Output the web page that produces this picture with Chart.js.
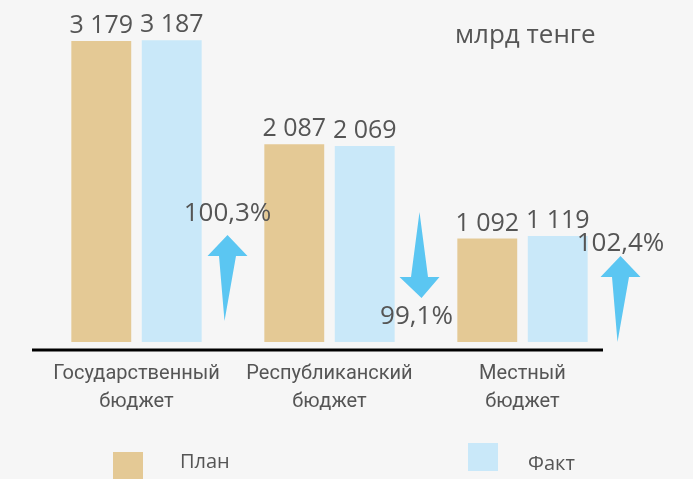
<!DOCTYPE html>
<html>
<head>
<meta charset="utf-8">
<script src="https://cdn.jsdelivr.net/npm/chart.js@4"></script>
<style>
  html, body { margin: 0; padding: 0; background: #f6f6f6; }
  canvas { display: block; }
</style>
</head>
<body>
<canvas id="budget" width="693" height="479"></canvas>
<script>
const categories = [
  ['Государственный', 'бюджет'],
  ['Республиканский', 'бюджет'],
  ['Местный', 'бюджет'],
];
const planValues = [3179, 2087, 1092];
const factValues = [3187, 2069, 1119];
const executionPct = [100.3, 99.1, 102.4];
const unitLabel = 'млрд тенге';
const seriesNames = ['План', 'Факт'];

const planColor = '#e4c995';
const factColor = '#c9e8f9';
const arrowColor = '#5bc6f2';
const textColor = '#555555';
const fontFamily = "'Open Sans', sans-serif";

// thousands with a space, like "3 179"
const fmtNum = (v) => String(v).replace(/\B(?=(\d{3})+(?!\d))/g, ' ');
const fmtPct = (v) => v.toFixed(1).replace('.', ',') + '%';

// value labels, baseline, arrows, unit, legend
const decorPlugin = {
  id: 'decor',
  afterDatasetsDraw(chart) {
    const ctx = chart.ctx;
    const area = chart.chartArea;
    const xs = chart.scales.x;
    ctx.save();

    // numbers above bars
    ctx.fillStyle = textColor;
    ctx.font = '25px ' + fontFamily;
    ctx.textAlign = 'center';
    ctx.textBaseline = 'alphabetic';
    chart.data.datasets.forEach((ds, di) => {
      chart.getDatasetMeta(di).data.forEach((bar, i) => {
        ctx.fillText(fmtNum(ds.data[i]), bar.x, bar.y - 8);
      });
    });

    // baseline
    ctx.strokeStyle = '#000';
    ctx.lineWidth = 3;
    ctx.beginPath();
    ctx.moveTo(area.left - 8, area.bottom + 8);
    ctx.lineTo(area.right - 16, area.bottom + 8);
    ctx.stroke();

    // arrows + percentages
    const lift = [21, 0, 0];
    const shift = [91, 90, 98];
    executionPct.forEach((p, i) => {
      const cx = xs.getPixelForValue(i) + shift[i];
      const up = p >= 100;
      const len = 86, headH = 21, headW = 40, shaftW = 17;
      ctx.fillStyle = arrowColor;
      ctx.beginPath();
      if (up) {
        const bottom = area.bottom - lift[i];
        const tip = bottom - len;
        ctx.moveTo(cx - 3, bottom);
        ctx.lineTo(cx - shaftW / 2, tip + headH);
        ctx.lineTo(cx - headW / 2, tip + headH);
        ctx.lineTo(cx, tip);
        ctx.lineTo(cx + headW / 2, tip + headH);
        ctx.lineTo(cx + shaftW / 2, tip + headH);
        ctx.closePath();
        ctx.fill();
        ctx.fillStyle = textColor;
        ctx.font = '26px ' + fontFamily;
        ctx.textAlign = 'center';
        ctx.fillText(fmtPct(p), cx, tip - 14 + (i === 2 ? 9 : 0));
      } else {
        const top = area.bottom - 130;
        const tip = top + len;
        ctx.moveTo(cx, top);
        ctx.lineTo(cx + shaftW / 2, tip - headH);
        ctx.lineTo(cx + headW / 2, tip - headH);
        ctx.lineTo(cx + 2, tip);
        ctx.lineTo(cx - headW / 2, tip - headH);
        ctx.lineTo(cx - shaftW / 2, tip - headH);
        ctx.closePath();
        ctx.fill();
        ctx.fillStyle = textColor;
        ctx.font = '26px ' + fontFamily;
        ctx.textAlign = 'center';
        ctx.fillText(fmtPct(p), cx - 3, tip + 26);
      }
    });

    // unit
    ctx.fillStyle = textColor;
    ctx.font = '26px ' + fontFamily;
    ctx.textAlign = 'left';
    ctx.fillText(unitLabel, 455, 43);

    // legend
    ctx.font = '20px ' + fontFamily;
    ctx.fillStyle = planColor;
    ctx.fillRect(113, 452, 30, 30);
    ctx.fillStyle = factColor;
    ctx.fillRect(468, 443, 30, 28);
    ctx.fillStyle = textColor;
    ctx.textBaseline = 'middle';
    ctx.fillText(seriesNames[0], 180, 462);
    ctx.fillText(seriesNames[1], 528, 464);

    ctx.restore();
  }
};

new Chart(document.getElementById('budget'), {
  type: 'bar',
  data: {
    labels: categories,
    datasets: [
      { label: seriesNames[0], data: planValues, backgroundColor: planColor },
      { label: seriesNames[1], data: factValues, backgroundColor: factColor },
    ],
  },
  options: {
    responsive: false,
    animation: false,
    devicePixelRatio: 1,
    categoryPercentage: 0.73,
    barPercentage: 0.85,
    layout: { padding: { left: 40, right: 74, top: 20, bottom: 53 } },
    plugins: {
      legend: { display: false },
      tooltip: { enabled: false },
    },
    scales: {
      x: {
        grid: { display: false },
        border: { display: false },
        ticks: {
          color: textColor,
          font: { family: "Roboto, sans-serif", size: 20, lineHeight: 1.4 },
          padding: 10,
          maxRotation: 0,
        },
      },
      y: {
        display: false,
        min: 0,
        max: 3400,
      },
    },
  },
  plugins: [decorPlugin],
});
</script>
</body>
</html>
